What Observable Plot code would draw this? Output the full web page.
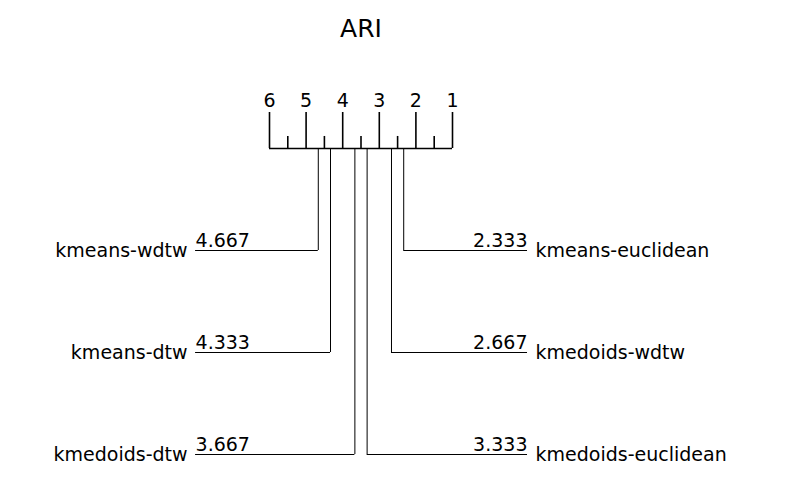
<!DOCTYPE html>
<html><head><meta charset="utf-8">
<script src="https://cdn.jsdelivr.net/npm/d3@7"></script>
<script src="https://cdn.jsdelivr.net/npm/@observablehq/plot@0.6"></script>
<style>body{margin:0;background:#fff;font-family:"DejaVu Sans",sans-serif}</style>
</head><body><div id="chart"></div>
<script>
const names = ["kmeans-wdtw","kmeans-dtw","kmedoids-dtw","kmeans-euclidean","kmedoids-wdtw","kmedoids-euclidean"];
const ranks = [4.667, 4.333, 3.667, 2.333, 2.667, 3.333];
const sides = ["left","left","left","right","right","right"];
const rows = [1,2,3,1,2,3];
const tickLabels = [6,5,4,3,2,1];
const minorTicks = [5.5,4.5,3.5,2.5,1.5];

const leftEnd = 8.02, rightEnd = -1.05;
const data = names.map((n,i)=>({name:n, rank:ranks[i], side:sides[i], row:rows[i],
  end: sides[i]==="left" ? leftEnd : rightEnd, label: ranks[i].toFixed(3)}));
const L = data.filter(d=>d.side==="left"), R = data.filter(d=>d.side==="right");

const fs = 19;
const plot = Plot.plot({
  width: 800, height: 480, margin: 0,
  style: {fontFamily: "DejaVu Sans", background: "white"},
  x: {domain: [6,1], range: [269,452], axis: null},
  y: {domain: [0,3], range: [148,454], axis: null},
  marks: [
    Plot.text(["ARI"], {x: 3.5, y: -1.17, text: d=>d, fontSize: 25, fill: "black"}),
    Plot.ruleY([0], {x1: 6, x2: 1, stroke: "black", strokeWidth: 1.6}),
    Plot.ruleX(tickLabels, {x: d=>d, y1: 0, y2: -0.353, stroke: "black", strokeWidth: 1.6}),
    Plot.ruleX(minorTicks, {x: d=>d, y1: 0, y2: -0.118, stroke: "black", strokeWidth: 1.6}),
    Plot.text(tickLabels, {x: d=>d, y: -0.47, text: d=>String(d), fontSize: fs, fill: "black"}),
    Plot.ruleX(data, {x: "rank", y1: 0, y2: "row", stroke: "black", strokeWidth: 1}),
    Plot.ruleY(data, {y: "row", x1: "rank", x2: "end", stroke: "black", strokeWidth: 1}),
    Plot.text(L, {x: "end", y: "row", text: "name", textAnchor: "end", dx: -8, fontSize: fs, fill: "black"}),
    Plot.text(R, {x: "end", y: "row", text: "name", textAnchor: "start", dx: 8, fontSize: fs, fill: "black"}),
    Plot.text(L, {x: "end", y: "row", text: "label", textAnchor: "start", dy: -10, fontSize: fs, fill: "black"}),
    Plot.text(R, {x: "end", y: "row", text: "label", textAnchor: "end", dy: -10, fontSize: fs, fill: "black"})
  ]
});
document.getElementById("chart").append(plot);
</script></body></html>
